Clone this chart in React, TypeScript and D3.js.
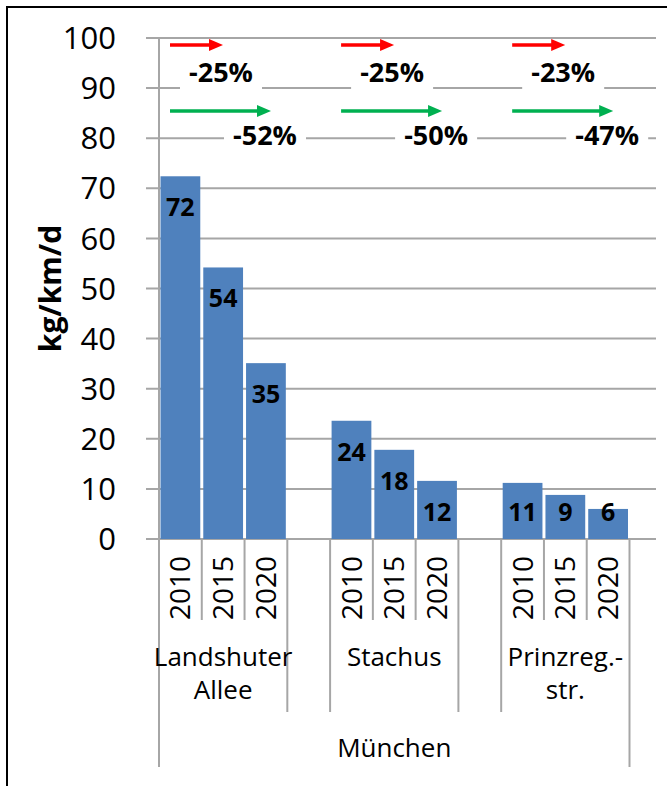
import React from 'react';
import * as d3 from 'd3';

// values (kg/km/d)
const years = ['2010', '2015', '2020'];
const siteLines = [['Landshuter', 'Allee'], ['Stachus'], ['Prinzreg.-', 'str.']];
const landshuter = [72.4, 54.2, 35.1];
const stachus = [23.6, 17.8, 11.6];
const prinzreg = [11.2, 8.8, 6.0];
const region = 'München';
const dropShort = ['-25%', '-25%', '-23%']; // 2010 -> 2015
const dropLong = ['-52%', '-50%', '-47%']; // 2010 -> 2020

const W = 667;
const H = 786;
const FONT = '"Open Sans", "Noto Sans", sans-serif';
const BAR = '#4f81bd';
const GRID = '#a6a6a6';

const App = () => {
  const series = [landshuter, stachus, prinzreg];

  // one slot per bar, plus an empty slot between the sites
  const slots: string[] = [];
  series.forEach((_, i) => {
    years.forEach((yr) => slots.push(`${i}-${yr}`));
    if (i < series.length - 1) slots.push(`${i}-gap`);
  });

  const x = d3.scaleBand<string>().domain(slots).range([159, 629.5]);
  const bw = x.bandwidth();
  const y = d3.scaleLinear().domain([0, 100]).range([539, 38]);
  const gridRight = 656;
  const axisBottom = y(0);

  const bars = series.flatMap((vals, i) =>
    vals.map((v, j) => ({ key: `${i}-${years[j]}`, v, year: years[j] }))
  );

  const groupStart = (i: number) => x(`${i}-2010`)!;
  const groupEnd = (i: number) => x(`${i}-2020`)! + bw;

  return (
    <svg
      width={W}
      height={H}
      style={{ position: 'absolute', left: 0, top: 0, background: '#fff' }}
      fontFamily={FONT}
    >
      <rect x={7} y={7} width={W + 20} height={H + 20} fill="#fff" stroke="#000" strokeWidth={2} />

      {/* gridlines + ticks */}
      {y.ticks(10).map((t) => (
        <g key={t}>
          <line x1={146} x2={gridRight} y1={y(t)} y2={y(t)} stroke={GRID} strokeWidth={2} />
          <text x={116} y={y(t)} dy="0.36em" textAnchor="end" fontSize={31} fill="#000">
            {t}
          </text>
        </g>
      ))}

      {/* y axis title */}
      <text
        transform={`translate(61,${y(50)}) rotate(-90)`}
        textAnchor="middle"
        fontSize={30}
        fontWeight="bold"
        fill="#000"
      >
        kg/km/d
      </text>

      {/* bars */}
      {bars.map((b) => (
        <rect
          key={b.key}
          x={x(b.key)! + 1.5}
          y={y(b.v)}
          width={bw - 3}
          height={axisBottom - y(b.v)}
          fill={BAR}
        />
      ))}

      {/* value labels, inside end, kept clear of the baseline */}
      {bars.map((b) => (
        <text
          key={`l${b.key}`}
          x={x(b.key)! + bw / 2}
          y={Math.min(y(b.v) + 31, axisBottom - 27)}
          dy="0.36em"
          textAnchor="middle"
          fontSize={25}
          fontWeight="bold"
          fill="#000"
        >
          {Math.round(b.v)}
        </text>
      ))}

      {/* y axis line */}
      <line x1={159} x2={159} y1={y(100)} y2={axisBottom} stroke={GRID} strokeWidth={2} />

      {/* multi-level category axis */}
      {series.map((_, i) => (
        <g key={`cat${i}`}>
          {[1, 2].map((j) => (
            <line
              key={j}
              x1={x(`${i}-${years[j]}`)}
              x2={x(`${i}-${years[j]}`)}
              y1={axisBottom}
              y2={620}
              stroke={GRID}
              strokeWidth={2}
            />
          ))}
          {[groupStart(i), groupEnd(i)].map((gx, k) => (
            <line
              key={`g${k}`}
              x1={gx}
              x2={gx}
              y1={axisBottom}
              y2={(i === 0 && k === 0) || (i === series.length - 1 && k === 1) ? 767 : 712}
              stroke={GRID}
              strokeWidth={2}
            />
          ))}
          {years.map((yr) => (
            <text
              key={yr}
              transform={`translate(${x(`${i}-${yr}`)! + bw / 2},588) rotate(-90)`}
              textAnchor="middle"
              dy="0.36em"
              fontSize={28}
              fill="#000"
            >
              {yr}
            </text>
          ))}
          {siteLines[i].map((ln, k) => (
            <text
              key={ln}
              x={(groupStart(i) + groupEnd(i)) / 2}
              y={657 + k * 33}
              dy="0.36em"
              textAnchor="middle"
              fontSize={26}
              fill="#000"
            >
              {ln}
            </text>
          ))}
        </g>
      ))}
      <text
        x={(groupStart(0) + groupEnd(series.length - 1)) / 2}
        y={748}
        dy="0.36em"
        textAnchor="middle"
        fontSize={26}
        fill="#000"
      >
        {region}
      </text>

      {/* change annotations */}
      {series.map((_, i) => {
        const g0 = groupStart(i);
        const arrows = [
          { x1: g0 + 11, x2: g0 + 64, yy: 45, c: '#ff0000' },
          { x1: g0 + 11, x2: g0 + 112, yy: 111, c: '#00b050' },
        ];
        const labels = [
          { t: dropShort[i], cx: g0 + 62, cy: 72 },
          { t: dropLong[i], cx: g0 + 106, cy: 135 },
        ];
        return (
          <g key={`ann${i}`}>
            {arrows.map((a, k) => (
              <g key={k}>
                <line x1={a.x1} x2={a.x2 - 12} y1={a.yy} y2={a.yy} stroke={a.c} strokeWidth={3.5} />
                <path
                  d={`M${a.x2 - 14},${a.yy - 6}L${a.x2},${a.yy}L${a.x2 - 14},${a.yy + 6}Z`}
                  fill={a.c}
                />
              </g>
            ))}
            {labels.map((l, k) => (
              <g key={`t${k}`}>
                <rect x={l.cx - 41} y={l.cy - 18} width={82} height={36} fill="#fff" />
                <text
                  x={l.cx}
                  y={l.cy}
                  dy="0.36em"
                  textAnchor="middle"
                  fontSize={27}
                  fontWeight="bold"
                  fill="#000"
                >
                  {l.t}
                </text>
              </g>
            ))}
          </g>
        );
      })}
    </svg>
  );
};

export default App;
